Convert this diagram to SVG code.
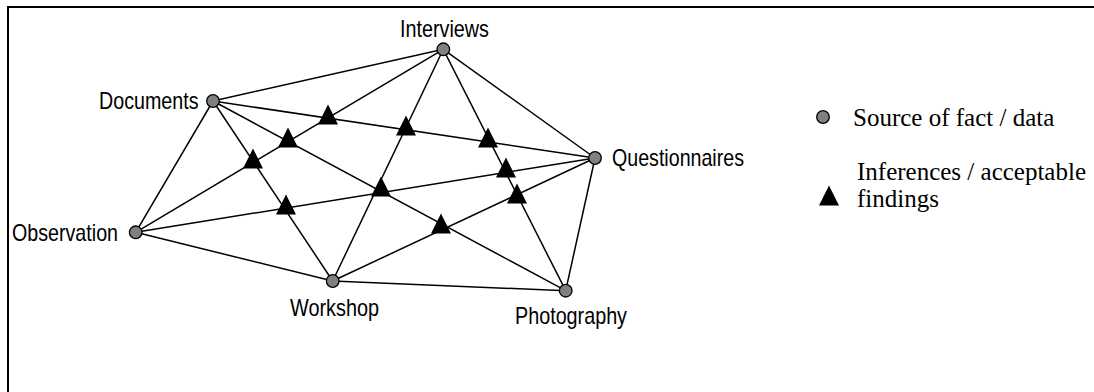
<svg xmlns="http://www.w3.org/2000/svg" width="1094" height="392" viewBox="0 0 1094 392">
  <style>
    .frame { fill: none; stroke: #000; stroke-width: 2; }
    .edge { stroke: #000; stroke-width: 1.5; fill: none; }
    .src { fill: #808080; stroke: #000; stroke-width: 1.3; }
    .inf { fill: #000; }
    .lbl { font-family: "Liberation Sans", Arial, sans-serif; font-size: 24px; fill: #000; }
    .key { font-family: "Liberation Serif", "Times New Roman", serif; font-size: 25px; fill: #000; }
  </style>
  <defs>
    <circle id="srcDot" r="6.3" class="src"/>
    <path id="infTri" d="M0,-13.5 L10,6.5 L-10,6.5 Z" class="inf"/>
  </defs>

  <!-- outer frame (right and bottom edges lie outside the canvas) -->
  <rect class="frame" x="8" y="7" width="1100" height="400"/>

  <!-- connectors between sources -->
  <g id="connectors">
    <line class="edge" x1="213" y1="101" x2="443.3" y2="49.3"/>
    <line class="edge" x1="213" y1="101" x2="595" y2="158"/>
    <line class="edge" x1="213" y1="101" x2="565.7" y2="290.7"/>
    <line class="edge" x1="213" y1="101" x2="332.7" y2="281"/>
    <line class="edge" x1="213" y1="101" x2="135.7" y2="232.3"/>
    <line class="edge" x1="135.7" y1="232.3" x2="443.3" y2="49.3"/>
    <line class="edge" x1="135.7" y1="232.3" x2="595" y2="158"/>
    <line class="edge" x1="135.7" y1="232.3" x2="332.7" y2="281"/>
    <line class="edge" x1="332.7" y1="281" x2="443.3" y2="49.3"/>
    <line class="edge" x1="332.7" y1="281" x2="595" y2="158"/>
    <line class="edge" x1="332.7" y1="281" x2="565.7" y2="290.7"/>
    <line class="edge" x1="443.3" y1="49.3" x2="595" y2="158"/>
    <line class="edge" x1="443.3" y1="49.3" x2="565.7" y2="290.7"/>
    <line class="edge" x1="595" y1="158" x2="565.7" y2="290.7"/>
  </g>

  <!-- inferences at the crossings -->
  <g id="inferences">
    <use href="#infTri" x="328" y="118"/>
    <use href="#infTri" x="406" y="129"/>
    <use href="#infTri" x="488" y="141"/>
    <use href="#infTri" x="288" y="141"/>
    <use href="#infTri" x="253" y="162"/>
    <use href="#infTri" x="286" y="208"/>
    <use href="#infTri" x="381" y="190"/>
    <use href="#infTri" x="506" y="171"/>
    <use href="#infTri" x="517" y="197"/>
    <use href="#infTri" x="441" y="227"/>
  </g>

  <!-- sources -->
  <g id="documents">
    <use href="#srcDot" x="213" y="101"/>
    <text class="lbl" x="99" y="109" textLength="99.5" lengthAdjust="spacingAndGlyphs">Documents</text>
  </g>
  <g id="interviews">
    <use href="#srcDot" x="443.3" y="49.3"/>
    <text class="lbl" x="400" y="36.5" textLength="89" lengthAdjust="spacingAndGlyphs">Interviews</text>
  </g>
  <g id="questionnaires">
    <use href="#srcDot" x="595" y="158"/>
    <text class="lbl" x="612" y="166" textLength="132" lengthAdjust="spacingAndGlyphs">Questionnaires</text>
  </g>
  <g id="observation">
    <use href="#srcDot" x="135.7" y="232.3"/>
    <text class="lbl" x="12" y="241" textLength="106" lengthAdjust="spacingAndGlyphs">Observation</text>
  </g>
  <g id="workshop">
    <use href="#srcDot" x="332.7" y="281"/>
    <text class="lbl" x="290" y="316" textLength="89" lengthAdjust="spacingAndGlyphs">Workshop</text>
  </g>
  <g id="photography">
    <use href="#srcDot" x="565.7" y="290.7"/>
    <text class="lbl" x="515" y="324" textLength="112" lengthAdjust="spacingAndGlyphs">Photography</text>
  </g>

  <!-- key -->
  <g id="legend">
    <use href="#srcDot" x="823" y="117"/>
    <text class="key" x="853" y="126">Source of fact / data</text>
    <use href="#infTri" x="829" y="199"/>
    <text class="key" x="857" y="180">Inferences / acceptable</text>
    <text class="key" x="857" y="207">findings</text>
  </g>
</svg>
